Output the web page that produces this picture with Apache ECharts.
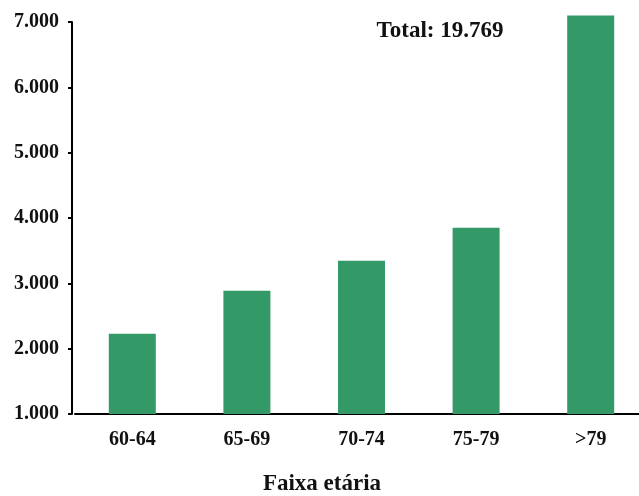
<!DOCTYPE html>
<html>
<head>
<meta charset="utf-8">
<script src="https://cdn.jsdelivr.net/npm/echarts@6/dist/echarts.min.js"></script>
<style>
html,body{margin:0;padding:0;background:#fff;}
#chart{width:639px;height:496px;}
</style>
</head>
<body>
<div id="chart"></div>
<script>
var categories = ['60-64', '65-69', '70-74', '75-79', '>79'];
var values = [2225, 2883, 3342, 3847, 7092];
var yTicks = [1000, 2000, 3000, 4000, 5000, 6000, 7000];
var totalLabel = 'Total: 19.769';
var xAxisTitle = 'Faixa etária';

var font = 'Liberation Serif';
function fmt(v){ return String(v).replace(/\B(?=(\d{3})+(?!\d))/g, '.'); }

var chart = echarts.init(document.getElementById('chart'));
chart.setOption({
  backgroundColor: '#ffffff',
  animation: false,
  grid: [
    { left: 75, width: 573, top: 15, bottom: 82, containLabel: false, outerBoundsMode: 'none' },
    { left: 75, width: 573, top: 22, bottom: 82, containLabel: false, outerBoundsMode: 'none' }
  ],
  xAxis: [{
    type: 'category',
    gridIndex: 0,
    data: categories,
    axisLine: { show: true, lineStyle: { color: '#000', width: 2 } },
    axisTick: { show: false },
    axisLabel: { color: '#111', fontFamily: font, fontWeight: 'bold', fontSize: 20, margin: 16 }
  }, {
    type: 'category',
    gridIndex: 1,
    data: categories,
    show: false
  }],
  yAxis: [{
    type: 'value',
    gridIndex: 0,
    min: 1000,
    max: 7100,
    show: false,
    splitLine: { show: false }
  }, {
    type: 'value',
    gridIndex: 1,
    min: yTicks[0],
    max: yTicks[yTicks.length - 1],
    interval: 1000,
    offset: 3,
    splitLine: { show: false },
    axisLine: { show: true, lineStyle: { color: '#000', width: 2 } },
    axisTick: { show: true, length: 4, lineStyle: { color: '#000', width: 2 } },
    axisLabel: { color: '#111', fontFamily: font, fontWeight: 'bold', fontSize: 20, margin: 13, formatter: fmt }
  }],
  graphic: [
    { type: 'text', style: { text: totalLabel, x: 440, y: 31, textAlign: 'center', textVerticalAlign: 'middle', font: 'bold 23px "Liberation Serif"', fill: '#111' } },
    { type: 'text', style: { text: xAxisTitle, x: 322, y: 484, textAlign: 'center', textVerticalAlign: 'middle', font: 'bold 23px "Liberation Serif"', fill: '#111' } }
  ],
  series: [{
    type: 'bar',
    xAxisIndex: 0,
    yAxisIndex: 0,
    data: values,
    barWidth: 47,
    itemStyle: { color: '#339966' }
  }]
});
</script>
</body>
</html>
